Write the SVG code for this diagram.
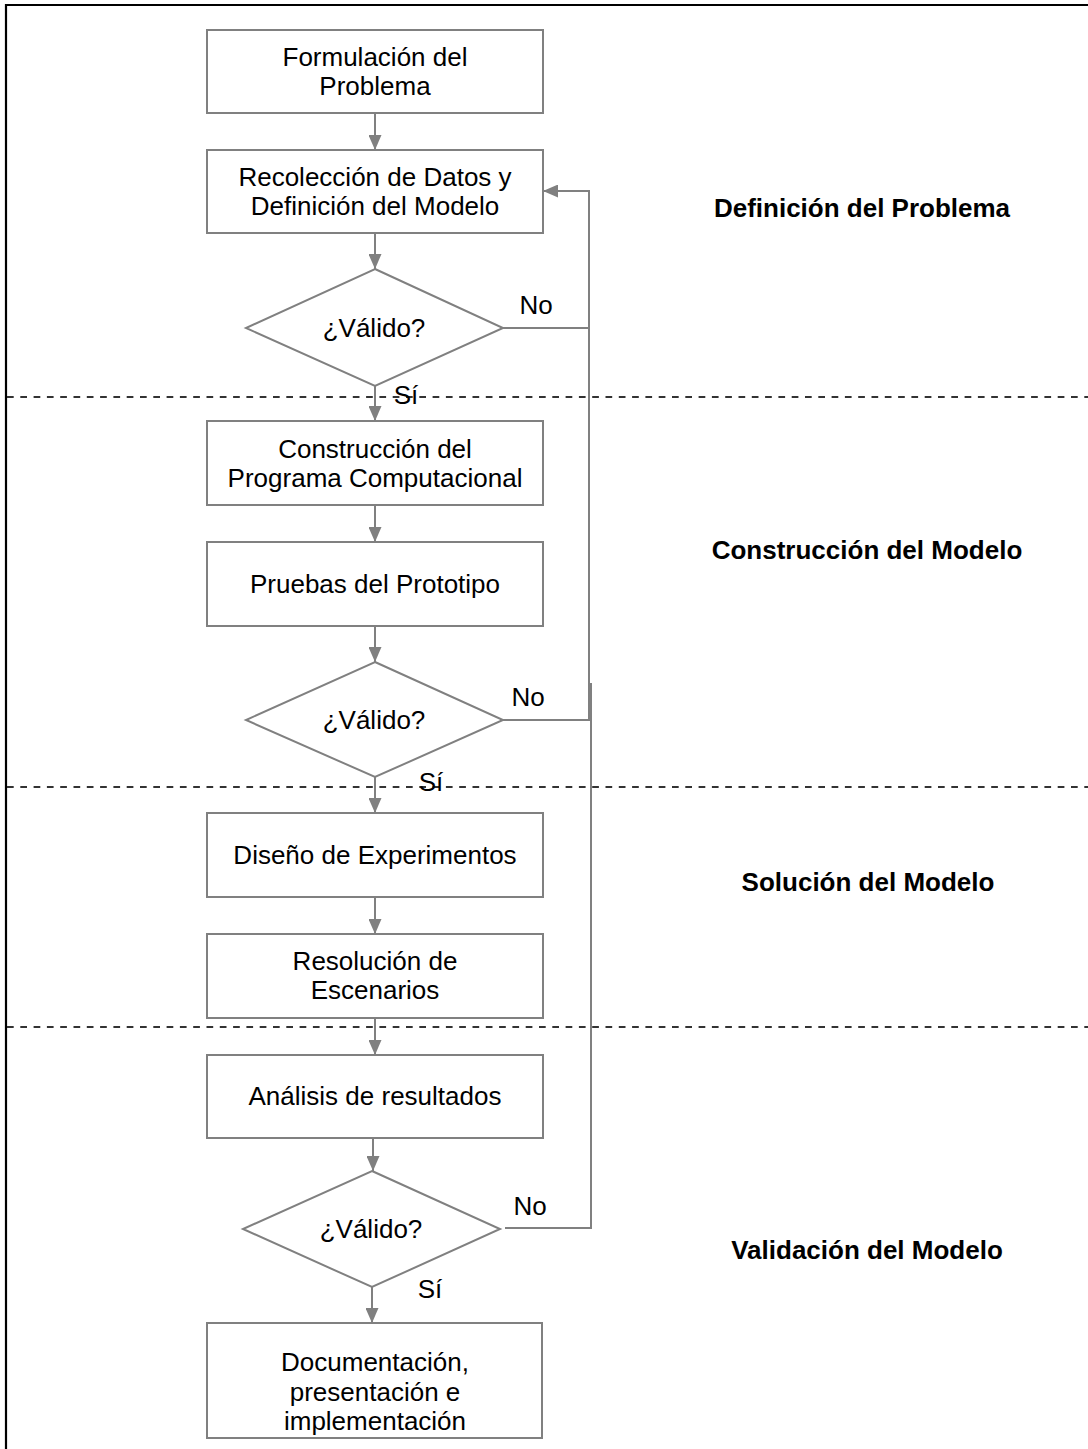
<svg xmlns="http://www.w3.org/2000/svg" width="1088" height="1449" viewBox="0 0 1088 1449">
<style>
.box{fill:#fff;stroke:#808080;stroke-width:2}
.t{font-family:"Liberation Sans",Arial,sans-serif;font-size:26px;fill:#000;text-anchor:middle}
.b{font-family:"Liberation Sans",Arial,sans-serif;font-size:26px;font-weight:bold;fill:#000;text-anchor:middle}
.c{fill:none;stroke:#808080;stroke-width:2}
.d{fill:none;stroke:#333;stroke-width:2;stroke-dasharray:6.7 6.6}
</style>
<defs>
<marker id="ah" markerUnits="userSpaceOnUse" markerWidth="15" markerHeight="13" refX="15" refY="6.5" orient="auto" viewBox="0 0 15 13">
<path d="M0,0 L15,6.5 L0,13 z" fill="#808080"/>
</marker>
</defs>
<rect x="0" y="0" width="1088" height="1449" fill="#fff"/>
<g id="frame">
<path d="M6,1449 V5 H1088" fill="none" stroke="#000" stroke-width="2.2"/>
</g>
<g id="separators">
<line class="d" x1="7" y1="397" x2="1088" y2="397"/>
<line class="d" x1="7" y1="787" x2="1088" y2="787"/>
<line class="d" x1="7" y1="1027" x2="1088" y2="1027"/>
</g>
<g id="connectors">
<line class="c" x1="375" y1="113" x2="375" y2="150" marker-end="url(#ah)"/>
<line class="c" x1="375" y1="233" x2="375" y2="269" marker-end="url(#ah)"/>
<line class="c" x1="375" y1="386" x2="375" y2="421" marker-end="url(#ah)"/>
<line class="c" x1="375" y1="505" x2="375" y2="542" marker-end="url(#ah)"/>
<line class="c" x1="375" y1="626" x2="375" y2="662" marker-end="url(#ah)"/>
<line class="c" x1="375" y1="777" x2="375" y2="813" marker-end="url(#ah)"/>
<line class="c" x1="375" y1="897" x2="375" y2="934" marker-end="url(#ah)"/>
<line class="c" x1="375" y1="1018" x2="375" y2="1055" marker-end="url(#ah)"/>
<line class="c" x1="373" y1="1138" x2="373" y2="1171" marker-end="url(#ah)"/>
<line class="c" x1="372" y1="1287" x2="372" y2="1323" marker-end="url(#ah)"/>
<polyline class="c" points="503,328 589,328"/>
<polyline class="c" points="503,720 589,720 589,191 543,191" marker-end="url(#ah)"/>
<polyline class="c" points="505,1228 591,1228 591,683"/>
</g>
<g id="n1"><rect class="box" x="207" y="30" width="336" height="83"/>
<text class="t" x="375" y="66">Formulación del</text><text class="t" x="375" y="95">Problema</text></g>
<g id="n2"><rect class="box" x="207" y="150" width="336" height="83"/>
<text class="t" x="375" y="186">Recolección de Datos y</text><text class="t" x="375" y="215">Definición del Modelo</text></g>
<g id="d1"><polygon class="box" points="375,269 503,328 375,386 246,328"/>
<text class="t" x="374" y="337">¿Válido?</text></g>
<g id="n3"><rect class="box" x="207" y="421" width="336" height="84"/>
<text class="t" x="375" y="458">Construcción del</text><text class="t" x="375" y="487">Programa Computacional</text></g>
<g id="n4"><rect class="box" x="207" y="542" width="336" height="84"/>
<text class="t" x="375" y="593">Pruebas del Prototipo</text></g>
<g id="d2"><polygon class="box" points="375,662 503,720 375,777 246,720"/>
<text class="t" x="374" y="729">¿Válido?</text></g>
<g id="n5"><rect class="box" x="207" y="813" width="336" height="84"/>
<text class="t" x="375" y="864">Diseño de Experimentos</text></g>
<g id="n6"><rect class="box" x="207" y="934" width="336" height="84"/>
<text class="t" x="375" y="970">Resolución de</text><text class="t" x="375" y="999">Escenarios</text></g>
<g id="n7"><rect class="box" x="207" y="1055" width="336" height="83"/>
<text class="t" x="375" y="1105">Análisis de resultados</text></g>
<g id="d3"><polygon class="box" points="372,1171 500,1229 372,1287 243,1229"/>
<text class="t" x="371" y="1238">¿Válido?</text></g>
<g id="n8"><rect class="box" x="207" y="1323" width="335" height="115"/>
<text class="t" x="375" y="1371">Documentación,</text><text class="t" x="375" y="1401">presentación e</text><text class="t" x="375" y="1430">implementación</text></g>
<g id="labels">
<text class="t" x="536" y="314">No</text>
<text class="t" x="528" y="706">No</text>
<text class="t" x="530" y="1215">No</text>
<text class="t" x="406" y="404">Sí</text>
<text class="t" x="431" y="791">Sí</text>
<text class="t" x="430" y="1298">Sí</text>
</g>
<g id="phases">
<text class="b" x="862" y="217">Definición del Problema</text>
<text class="b" x="867" y="559">Construcción del Modelo</text>
<text class="b" x="868" y="891">Solución del Modelo</text>
<text class="b" x="867" y="1259">Validación del Modelo</text>
</g>
</svg>
